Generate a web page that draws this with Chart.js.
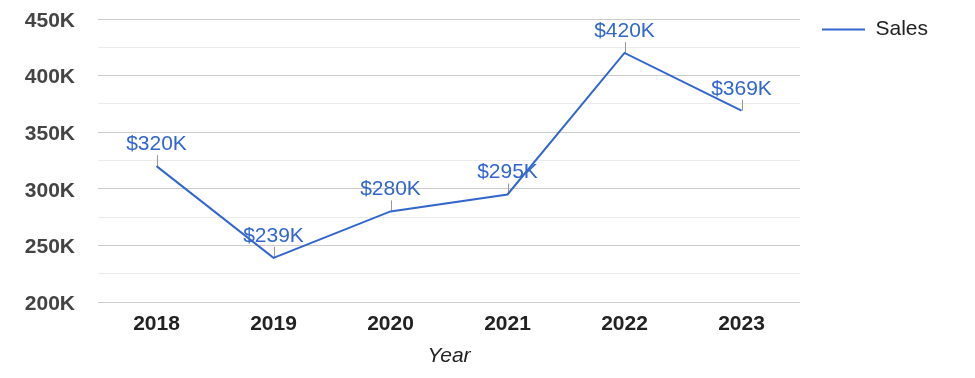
<!DOCTYPE html>
<html><head><meta charset="utf-8">
<script src="https://cdn.jsdelivr.net/npm/chart.js@4"></script>
<style>html,body{margin:0;padding:0;background:#fff}#wrap{width:975px;height:378px;position:relative}</style>
</head><body><div id="wrap"><canvas id="c"></canvas></div>
<script>
const years = ['2018', '2019', '2020', '2021', '2022', '2023'];
const sales = [320000, 239000, 280000, 295000, 420000, 369000];
const salesLabels = ['$320K', '$239K', '$280K', '$295K', '$420K', '$369K'];
const yMin = 200000, yMax = 450000, yStep = 25000, yLabelStep = 50000;
const seriesName = 'Sales';
const axisTitle = 'Year';

const FONT = 'Arial, "Liberation Sans", sans-serif';
const BLUE = '#3366cc';

const pointLabels = {
  id: 'pointLabels',
  beforeDatasetsDraw(chart) {
    const ctx = chart.ctx;
    const meta = chart.getDatasetMeta(0);
    ctx.save();
    meta.data.forEach((pt, i) => {
      const x = pt.x, y = pt.y;
      const xl = Math.round(x) + 0.5;
      ctx.strokeStyle = '#999';
      ctx.lineWidth = 1;
      ctx.beginPath();
      ctx.moveTo(xl, y);
      ctx.lineTo(xl, y - 11);
      ctx.stroke();
      ctx.fillStyle = BLUE;
      ctx.font = '21px ' + FONT;
      ctx.textAlign = 'center';
      ctx.textBaseline = 'alphabetic';
      ctx.fillText(salesLabels[i], x, y - 16);
    });
    ctx.restore();
  }
};

const legendPlace = {
  id: 'legendPlace',
  afterInit(chart) {
    const lg = chart.legend;
    if (!lg) return;
    const f = lg.fit;
    lg.fit = function () { f.call(this); this.width = 175; };
  },
  afterLayout(chart) {
    const lg = chart.legend;
    if (!lg) return;
    lg.left += 22; lg.right += 22;
  }
};

new Chart(document.getElementById('c'), {
  type: 'line',
  data: {
    labels: years,
    datasets: [{
      label: seriesName,
      data: sales,
      borderColor: BLUE,
      backgroundColor: BLUE,
      borderWidth: 2,
      pointRadius: 0,
      pointHoverRadius: 0,
      tension: 0,
      fill: false
    }]
  },
  options: {
    responsive: true,
    maintainAspectRatio: false,
    animation: false,
    layout: { padding: { top: 19, left: 0, right: 0, bottom: 0 } },
    plugins: {
      tooltip: { enabled: false },
      legend: {
        position: 'right',
        align: 'start',
        labels: {
          boxWidth: 43,
          boxHeight: 2,
          padding: 0,
          color: '#222',
          font: { family: FONT, size: 21 },
          generateLabels(chart) {
            const items = Chart.defaults.plugins.legend.labels.generateLabels(chart);
            items.forEach(it => { it.lineWidth = 0; it.fillStyle = BLUE; it.strokeStyle = BLUE; });
            return items;
          }
        }
      }
    },
    scales: {
      x: {
        offset: true,
        grid: { display: false },
        border: { display: false },
        ticks: { color: '#222', padding: 2, font: { family: FONT, size: 21, weight: 'bold' } },
        title: { display: true, text: axisTitle, color: '#222', padding: { top: 0, bottom: 9 }, font: { family: FONT, size: 21, style: 'italic' } },
        afterFit(s) { s.height = 76; }
      },
      y: {
        min: yMin, max: yMax,
        border: { display: false },
        grid: {
          drawTicks: false,
          color: c => (c.tick && c.tick.value % yLabelStep === 0) ? '#cccccc' : '#ebebeb',
          lineWidth: 1
        },
        ticks: {
          stepSize: yStep,
          autoSkip: false,
          padding: 23,
          labelOffset: 2,
          color: '#444',
          font: { family: FONT, size: 21, weight: 'bold' },
          callback: v => (v % yLabelStep === 0) ? (v / 1000) + 'K' : ''
        },
        afterFit(s) { s.width = 98; s.paddingTop = 0; s.paddingBottom = 0; }
      }
    }
  },
  plugins: [pointLabels, legendPlace]
});
</script>
</body></html>
